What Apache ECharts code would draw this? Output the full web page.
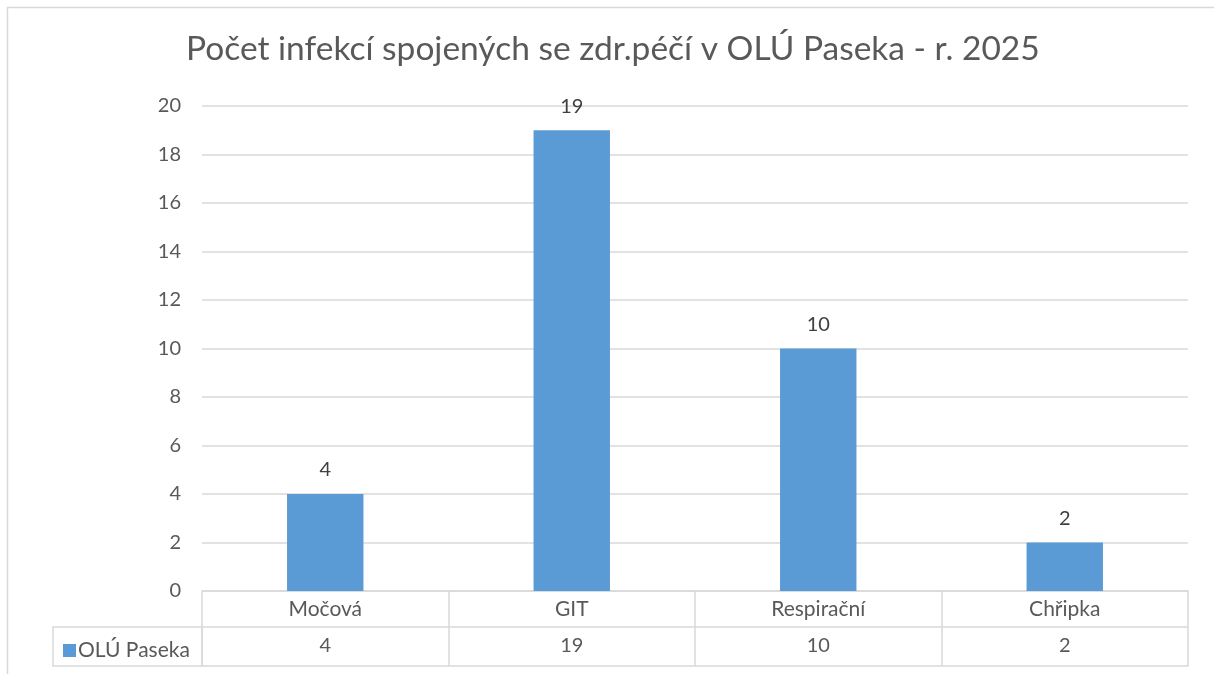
<!DOCTYPE html>
<html>
<head>
<meta charset="utf-8">
<script src="https://cdn.jsdelivr.net/npm/echarts@6/dist/echarts.min.js"></script>
<style>
html,body{margin:0;padding:0;background:#fff;}
#chart{width:1214px;height:674px;}
</style>
</head>
<body>
<div id="chart"></div>
<script>
// data
var categories = ['Močová', 'GIT', 'Respirační', 'Chřipka'];
var seriesName = 'OLÚ Paseka';
var values = [4, 19, 10, 2];
var yTicks = { min: 0, max: 20, step: 2 };

var gray = '#d9d9d9';
var txt = '#595959';
var font = 'Lato';

var myChart = echarts.init(document.getElementById('chart'));
var option = {
  backgroundColor: '#fff',
  animation: false,
  textStyle: { fontFamily: font },
  title: {
    text: 'Počet infekcí spojených se zdr.péčí v OLÚ Paseka - r. 2025',
    left: 186,
    top: 32,
    padding: 0,
    textStyle: { fontFamily: font, fontSize: 33.5, fontWeight: 'normal', color: txt }
  },
  legend: {
    data: [seriesName],
    left: 58,
    top: 635,
    itemWidth: 13,
    itemHeight: 13,
    itemGap: 4,
    icon: 'rect',
    textStyle: { fontFamily: font, fontSize: 21, color: txt, padding: [0, 0, 0, -3] }
  },
  grid: { left: 202, right: 26, top: 106, bottom: 83, containLabel: false },
  xAxis: [{
    type: 'category',
    data: categories,
    position: 'bottom',
    axisLine: { lineStyle: { color: gray, width: 1.5 } },
    axisTick: { show: true, length: 75, interval: 0, lineStyle: { color: gray, width: 1.5 } },
    axisLabel: { margin: 8, fontSize: 21, color: txt, interval: 0 },
    splitLine: { show: false }
  }, {
    type: 'category',
    data: values.map(String),
    position: 'bottom',
    offset: 36,
    axisLine: { lineStyle: { color: gray, width: 1.5 } },
    axisTick: { show: false },
    axisLabel: { margin: 9, fontSize: 20, color: txt, interval: 0 }
  }, {
    type: 'category',
    data: categories,
    position: 'bottom',
    offset: 75,
    axisLine: { lineStyle: { color: gray, width: 1.5 } },
    axisTick: { show: false },
    axisLabel: { show: false }
  }],
  yAxis: {
    type: 'value',
    min: yTicks.min,
    max: yTicks.max,
    interval: yTicks.step,
    axisLine: { show: false },
    axisTick: { show: false },
    axisLabel: { margin: 21, fontSize: 20, color: txt },
    splitLine: { lineStyle: { color: gray, width: 1.5 } }
  },
  series: [{
    name: seriesName,
    type: 'bar',
    xAxisIndex: 0,
    data: values,
    barWidth: '31%',
    itemStyle: { color: '#5b9bd5' },
    label: { show: true, position: 'top', distance: 14, fontSize: 20, color: '#404040', fontFamily: font }
  }],
  graphic: [{
    // table cell round the legend key
    type: 'rect',
    shape: { x: 53, y: 627, width: 149, height: 39 },
    style: { fill: 'none', stroke: gray, lineWidth: 1.5 },
    z: 0
  }, {
    // outer chart frame
    type: 'rect',
    shape: { x: 7.5, y: 7.5, width: 1220, height: 700 },
    style: { fill: 'none', stroke: gray, lineWidth: 1.5 },
    z: 0
  }]
};
myChart.setOption(option);
</script>
</body>
</html>
